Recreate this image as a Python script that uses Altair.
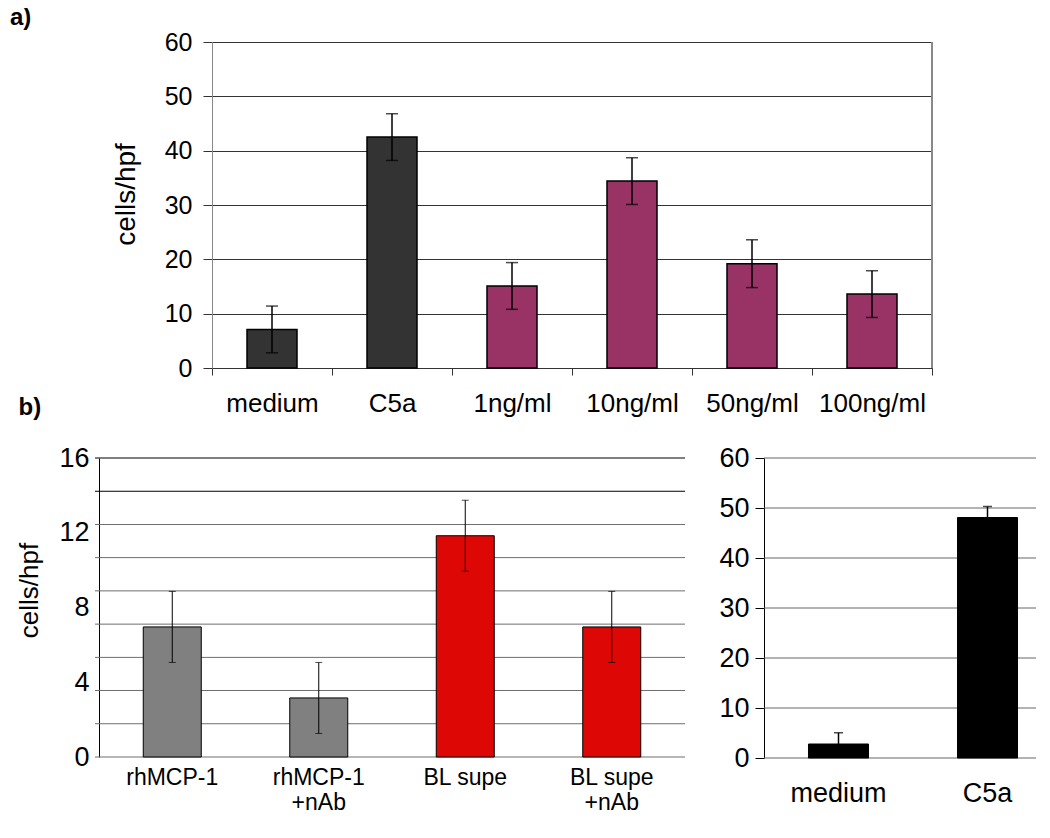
import altair as alt
import pandas as pd

FONT = "Liberation Sans"

# ---------------- data ----------------
a_cats = ["medium", "C5a", "1ng/ml", "10ng/ml", "50ng/ml", "100ng/ml"]
a_vals = [7.1, 42.5, 15.1, 34.4, 19.2, 13.6]
a_errs = [4.3, 4.3, 4.3, 4.3, 4.4, 4.3]
a_group = ["control", "control", "dose", "dose", "dose", "dose"]
a_ticks = [0, 10, 20, 30, 40, 50, 60]

b_cats = ["rhMCP-1", "rhMCP-1\n+nAb", "BL supe", "BL supe\n+nAb"]
b_vals = [6.96, 3.16, 11.84, 6.96]
b_errs = [1.9, 1.9, 1.9, 1.9]
b_group = ["rh", "rh", "bl", "bl"]
b_ticklabels = [0, 4, 8, 12, 16]
b_grid = [0, 1.78, 3.56, 5.33, 7.11, 8.89, 10.67, 12.44, 14.22, 16]

c_cats = ["medium", "C5a"]
c_vals = [2.8, 48.1]
c_errs = [2.25, 2.2]
c_ticks = [0, 10, 20, 30, 40, 50, 60]

# ---------------- tables ----------------
da = pd.DataFrame({"cat": a_cats, "val": a_vals, "err": a_errs, "grp": a_group})
da["lo"] = da["val"] - da["err"]
da["hi"] = da["val"] + da["err"]

db = pd.DataFrame({"cat": b_cats, "val": b_vals, "err": b_errs, "grp": b_group})
db["lo"] = db["val"] - db["err"]
db["hi"] = db["val"] + db["err"]
dg = pd.DataFrame({"v": b_grid})

dc = pd.DataFrame({"cat": c_cats, "val": c_vals, "err": c_errs})
dc["lo"] = dc["val"] - dc["err"]
dc["hi"] = dc["val"] + dc["err"]
dcg = pd.DataFrame({"v": c_ticks})

# ---------------- panel a ----------------
A_SHIFT, A_PLOT_W, A_H = 113, 720, 326
A_W = A_SHIFT + A_PLOT_W
xa_axis = alt.Axis(labelAngle=0, labelFontSize=26, labelFont=FONT, labelColor="black",
                   labelPadding=15, tickBand="extent", tickSize=7, tickColor="#333333",
                   domainColor="#333333", grid=False,
                   title="b)", titleX=-81, titleY=46, titleAlign="left",
                   titleBaseline="alphabetic", titleFontSize=24, titleFontWeight="bold",
                   titleFont=FONT, titleColor="black")
xa_scale = alt.Scale(domain=a_cats, range=[A_SHIFT, A_W], paddingInner=0, paddingOuter=0)
ya_axis = alt.Axis(values=a_ticks, title="cells/hpf", titleFontSize=28, titleFont=FONT,
                   titleFontWeight="normal", titleColor="black", titleX=-72, titleY=152,
                   labelFontSize=25, labelFont=FONT, labelColor="black", labelPadding=11,
                   tickSize=9, tickColor="#333333", domainColor="#888888",
                   grid=True, gridColor="#333333", offset=-A_SHIFT)
ya_scale = alt.Scale(domain=[0, 60], nice=False)

bars_a = alt.Chart(da).mark_bar(size=50, stroke="black", strokeWidth=1.5).encode(
    x=alt.X("cat:N", scale=xa_scale, axis=xa_axis),
    y=alt.Y("val:Q", scale=ya_scale, axis=ya_axis),
    color=alt.condition(alt.FieldOneOfPredicate(field="grp", oneOf=["control"]),
                        alt.value("#333333"), alt.value("#993366")),
)
rule_a = alt.Chart(da).mark_rule(color="black", strokeWidth=1.5).encode(
    x=alt.X("cat:N", scale=xa_scale, axis=xa_axis),
    y=alt.Y("lo:Q", scale=ya_scale, axis=ya_axis), y2="hi:Q")
cap_a = alt.Chart(da).transform_fold(["lo", "hi"], as_=["k", "v"]).mark_tick(
    color="black", size=12, thickness=1.5).encode(
    x=alt.X("cat:N", scale=xa_scale, axis=xa_axis),
    y=alt.Y("v:Q", scale=ya_scale, axis=ya_axis))
border_a = alt.Chart(da).mark_rule(color="#888888", strokeWidth=1).encode(
    x=alt.value(A_W), y=alt.value(0), y2=alt.value(A_H))

panel_a = alt.layer(bars_a, rule_a, cap_a, border_a).properties(
    width=A_W, height=A_H,
    title=alt.Title("a)", anchor="start", frame="group", fontSize=24, fontWeight="bold",
                    font=FONT, color="black", dx=-89, offset=0),
)

# ---------------- panel b left ----------------
B_W, B_H = 586, 299
xb_axis = alt.Axis(labelAngle=0, labelFontSize=23, labelFont=FONT, labelColor="black",
                   labelExpr="split(datum.label, '\\n')", labelLineHeight=25,
                   labelPadding=9, domain=False, ticks=False, grid=False, title=None)
xb_scale = alt.Scale(domain=b_cats, paddingInner=0, paddingOuter=0)
yb_axis = alt.Axis(values=b_ticklabels, title="cells/hpf", titleFontSize=26, titleFont=FONT,
                   titleFontWeight="normal", titleColor="black", titleX=-57, titleY=132,
                   labelFontSize=27, labelFont=FONT, labelColor="black", labelPadding=10,
                   ticks=False, grid=False, domain=True, domainColor="black")
yb_scale = alt.Scale(domain=[0, 16], nice=False)

grid_b = alt.Chart(dg).mark_rule(strokeWidth=1).encode(
    y=alt.Y("v:Q", scale=yb_scale, axis=yb_axis),
    x=alt.value(-4), x2=alt.value(B_W),
    color=alt.condition(alt.datum.v > 13, alt.value("black"), alt.value("#6e6e6e")),
)
bars_b = alt.Chart(db).mark_bar(size=58, stroke="black", strokeWidth=1).encode(
    x=alt.X("cat:N", scale=xb_scale, axis=xb_axis),
    y=alt.Y("val:Q", scale=yb_scale, axis=yb_axis),
    color=alt.condition(alt.FieldOneOfPredicate(field="grp", oneOf=["rh"]),
                        alt.value("#808080"), alt.value("#dd0806")),
)
rule_b = alt.Chart(db).mark_rule(color="black", strokeWidth=1).encode(
    x=alt.X("cat:N", scale=xb_scale, axis=xb_axis),
    y=alt.Y("lo:Q", scale=yb_scale, axis=yb_axis), y2="hi:Q")
cap_b = alt.Chart(db).transform_fold(["lo", "hi"], as_=["k", "v"]).mark_tick(
    color="black", size=7, thickness=1).encode(
    x=alt.X("cat:N", scale=xb_scale, axis=xb_axis),
    y=alt.Y("v:Q", scale=yb_scale, axis=yb_axis))

panel_b = alt.layer(grid_b, bars_b, rule_b, cap_b).properties(width=B_W, height=B_H)

# ---------------- panel b right ----------------
C_W, C_H = 272, 300
C_SHIFT = 13
xc_axis = alt.Axis(labelAngle=0, labelFontSize=27, labelFont=FONT, labelColor="black",
                   labelPadding=22, labelOffset=C_SHIFT, domain=False, ticks=False,
                   grid=False, title=None)
xc_scale = alt.Scale(domain=c_cats, range=[0, C_W], paddingInner=0.1745, paddingOuter=0)
yc_axis = alt.Axis(values=c_ticks, title=None, labelFontSize=27, labelFont=FONT,
                   labelColor="black", labelPadding=6, tickSize=9, tickColor="black",
                   domainColor="black", grid=False)
yc_scale = alt.Scale(domain=[0, 60], nice=False)

grid_c = alt.Chart(dcg).mark_rule(strokeWidth=1, color="#666666").encode(
    y=alt.Y("v:Q", scale=yc_scale, axis=yc_axis),
    x=alt.value(0), x2=alt.value(C_W),
)
bars_c = alt.Chart(dc).mark_bar(size=60, color="black", stroke="black", strokeWidth=1,
                                xOffset=C_SHIFT).encode(
    x=alt.X("cat:N", scale=xc_scale, axis=xc_axis),
    y=alt.Y("val:Q", scale=yc_scale, axis=yc_axis),
)
rule_c = alt.Chart(dc).mark_rule(color="black", strokeWidth=1.5, xOffset=C_SHIFT).encode(
    x=alt.X("cat:N", scale=xc_scale, axis=xc_axis),
    y=alt.Y("lo:Q", scale=yc_scale, axis=yc_axis), y2="hi:Q")
cap_c = alt.Chart(dc).transform_fold(["lo", "hi"], as_=["k", "v"]).mark_tick(
    color="black", size=9, thickness=1.5, xOffset=C_SHIFT).encode(
    x=alt.X("cat:N", scale=xc_scale, axis=xc_axis),
    y=alt.Y("v:Q", scale=yc_scale, axis=yc_axis))

panel_c = alt.layer(grid_c, bars_c, rule_c, cap_c).properties(width=C_W, height=C_H)

bottom_row = alt.hconcat(panel_b, panel_c, spacing=32)

chart = alt.vconcat(panel_a, bottom_row, spacing=25).properties(
    padding={"left": 2, "top": -2, "right": 0, "bottom": 0},
    background="white",
).configure(font=FONT).configure_view(stroke=None)

chart.save("out.html", embed_options={"renderer": "svg", "actions": False})
